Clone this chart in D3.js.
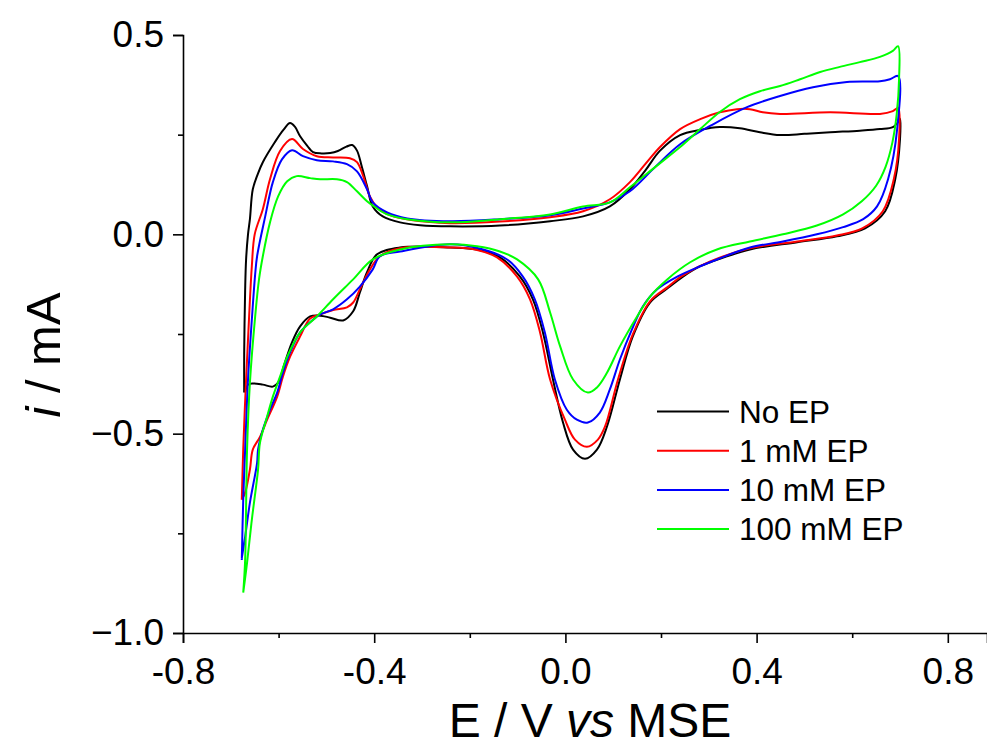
<!DOCTYPE html>
<html>
<head>
<meta charset="utf-8">
<script src="https://cdnjs.cloudflare.com/ajax/libs/d3/7.8.5/d3.min.js"></script>
<style>
  body { margin: 0; background: #fff; }
  svg { display: block; }
  text { font-family: "Liberation Sans", Arial, sans-serif; fill: #000; }
</style>
</head>
<body>
<div id="chart"></div>
<script>
// series labels (legend order)
var seriesNames = ["No EP", "1 mM EP", "10 mM EP", "100 mM EP"];

// CV loops as [E (V vs MSE), i (mA)] - anodic sweep then cathodic sweep
var noEP = [
  [-0.672,-0.397],[-0.672,-0.30],[-0.670,-0.14],[-0.668,-0.063],[-0.664,0.0],[-0.660,0.038],
  [-0.654,0.113],[-0.644,0.150],[-0.633,0.181],[-0.608,0.231],[-0.590,0.262],[-0.576,0.279],
  [-0.566,0.270],[-0.555,0.246],[-0.540,0.222],[-0.528,0.206],[-0.510,0.203],[-0.492,0.204],
  [-0.476,0.209],[-0.458,0.220],[-0.446,0.224],[-0.436,0.210],[-0.426,0.170],[-0.415,0.121],
  [-0.403,0.070],[-0.382,0.045],[-0.346,0.030],[-0.304,0.023],[-0.241,0.020],[-0.137,0.022],
  [-0.032,0.033],[0.037,0.045],[0.093,0.070],[0.135,0.113],[0.167,0.160],[0.198,0.210],
  [0.240,0.249],[0.282,0.262],[0.323,0.269],[0.365,0.266],[0.407,0.256],[0.449,0.249],
  [0.500,0.252],[0.554,0.256],[0.616,0.260],[0.658,0.264],[0.685,0.269],[0.698,0.285],
  [0.700,0.29],
  [0.700,0.239],[0.690,0.138],[0.669,0.058],[0.627,0.015],[0.568,-0.005],[0.485,-0.020],
  [0.386,-0.038],[0.303,-0.070],[0.282,-0.080],[0.246,-0.106],[0.213,-0.136],[0.177,-0.171],
  [0.141,-0.256],[0.114,-0.364],[0.087,-0.482],[0.066,-0.540],[0.041,-0.563],[0.016,-0.540],
  [-0.005,-0.472],[-0.026,-0.364],[-0.047,-0.246],[-0.068,-0.163],[-0.095,-0.106],[-0.137,-0.058],
  [-0.185,-0.038],[-0.241,-0.033],[-0.346,-0.033],[-0.394,-0.050],[-0.415,-0.095],[-0.430,-0.146],
  [-0.444,-0.193],[-0.465,-0.216],[-0.492,-0.209],[-0.513,-0.204],[-0.534,-0.206],[-0.555,-0.231],
  [-0.572,-0.271],[-0.587,-0.322],[-0.601,-0.372],[-0.612,-0.382],[-0.633,-0.377],[-0.654,-0.374],
  [-0.664,-0.377],[-0.670,-0.397]
];

var ep1 = [
  [-0.677,-0.666],[-0.674,-0.540],[-0.668,-0.364],[-0.662,-0.214],[-0.656,-0.08],[-0.650,0.0],
  [-0.633,0.063],[-0.618,0.138],[-0.597,0.209],[-0.572,0.239],[-0.549,0.214],[-0.520,0.196],
  [-0.486,0.193],[-0.451,0.191],[-0.436,0.181],[-0.423,0.146],[-0.409,0.095],[-0.394,0.068],
  [-0.367,0.048],[-0.319,0.035],[-0.241,0.028],[-0.137,0.032],[-0.032,0.043],[0.037,0.058],
  [0.093,0.088],[0.135,0.131],[0.167,0.176],[0.198,0.219],[0.240,0.264],[0.282,0.289],
  [0.323,0.306],[0.359,0.314],[0.386,0.314],[0.413,0.306],[0.449,0.302],[0.554,0.306],
  [0.658,0.302],[0.685,0.309],[0.696,0.317],
  [0.698,0.239],[0.687,0.138],[0.664,0.058],[0.621,0.015],[0.568,-0.003],[0.485,-0.018],
  [0.386,-0.035],[0.303,-0.068],[0.246,-0.103],[0.213,-0.133],[0.177,-0.168],[0.141,-0.251],
  [0.110,-0.364],[0.083,-0.482],[0.068,-0.515],[0.045,-0.533],[0.020,-0.515],[-0.001,-0.465],
  [-0.032,-0.364],[-0.053,-0.246],[-0.074,-0.163],[-0.101,-0.106],[-0.143,-0.058],[-0.189,-0.038],
  [-0.241,-0.033],[-0.346,-0.035],[-0.388,-0.055],[-0.409,-0.088],[-0.430,-0.138],[-0.444,-0.171],
  [-0.457,-0.183],[-0.486,-0.190],[-0.513,-0.201],[-0.534,-0.211],[-0.555,-0.256],[-0.576,-0.307],
  [-0.591,-0.357],[-0.603,-0.407],[-0.624,-0.465],[-0.639,-0.508],[-0.654,-0.540],[-0.660,-0.590],
  [-0.670,-0.648],[-0.677,-0.666]
];

var ep10 = [
  [-0.677,-0.817],[-0.674,-0.666],[-0.670,-0.540],[-0.664,-0.364],[-0.656,-0.214],[-0.649,-0.10],
  [-0.645,-0.055],[-0.628,0.045],[-0.612,0.131],[-0.593,0.188],[-0.572,0.211],[-0.549,0.196],
  [-0.520,0.186],[-0.486,0.183],[-0.457,0.176],[-0.436,0.158],[-0.415,0.113],[-0.403,0.080],
  [-0.373,0.055],[-0.331,0.040],[-0.241,0.033],[-0.137,0.038],[-0.032,0.048],[0.037,0.065],
  [0.093,0.080],[0.135,0.108],[0.187,0.168],[0.240,0.226],[0.309,0.276],[0.380,0.319],
  [0.449,0.347],[0.518,0.369],[0.589,0.382],[0.658,0.384],[0.679,0.389],[0.696,0.397],
  [0.694,0.264],[0.675,0.138],[0.652,0.070],[0.623,0.038],[0.581,0.018],[0.526,0.000],
  [0.455,-0.018],[0.386,-0.033],[0.317,-0.063],[0.282,-0.080],[0.234,-0.106],[0.192,-0.138],
  [0.162,-0.181],[0.139,-0.239],[0.114,-0.314],[0.093,-0.389],[0.072,-0.447],[0.047,-0.472],
  [0.024,-0.465],[0.003,-0.440],[-0.022,-0.364],[-0.043,-0.246],[-0.064,-0.163],[-0.089,-0.106],
  [-0.122,-0.063],[-0.172,-0.038],[-0.241,-0.025],[-0.346,-0.043],[-0.388,-0.055],[-0.403,-0.088],
  [-0.430,-0.131],[-0.457,-0.163],[-0.486,-0.188],[-0.513,-0.201],[-0.528,-0.214],[-0.555,-0.246],
  [-0.576,-0.296],[-0.591,-0.347],[-0.603,-0.397],[-0.618,-0.440],[-0.633,-0.490],[-0.643,-0.540],
  [-0.645,-0.573],[-0.660,-0.673],[-0.670,-0.759],[-0.677,-0.812]
];

var ep100 = [
  [-0.674,-0.899],[-0.670,-0.817],[-0.666,-0.540],[-0.660,-0.372],[-0.649,-0.206],[-0.641,-0.113],
  [-0.633,-0.055],[-0.618,0.030],[-0.601,0.095],[-0.582,0.133],[-0.562,0.146],[-0.534,0.141],
  [-0.513,0.138],[-0.478,0.138],[-0.457,0.131],[-0.436,0.108],[-0.415,0.083],[-0.398,0.068],
  [-0.373,0.050],[-0.331,0.038],[-0.241,0.030],[-0.137,0.038],[-0.032,0.050],[0.037,0.070],
  [0.093,0.080],[0.135,0.118],[0.187,0.168],[0.240,0.219],[0.282,0.264],[0.323,0.307],
  [0.365,0.339],[0.407,0.359],[0.449,0.372],[0.491,0.389],[0.533,0.407],[0.574,0.420],
  [0.616,0.432],[0.658,0.445],[0.685,0.460],[0.696,0.472],
  [0.698,0.389],[0.693,0.300],[0.684,0.230],[0.670,0.170],[0.650,0.122],[0.620,0.083],
  [0.581,0.050],[0.526,0.022],[0.455,0.000],[0.386,-0.018],[0.317,-0.038],[0.261,-0.070],
  [0.213,-0.113],[0.177,-0.156],[0.150,-0.206],[0.114,-0.281],[0.087,-0.347],[0.066,-0.384],
  [0.047,-0.397],[0.016,-0.364],[-0.011,-0.281],[-0.032,-0.196],[-0.057,-0.113],[-0.101,-0.063],
  [-0.137,-0.043],[-0.185,-0.030],[-0.241,-0.025],[-0.346,-0.038],[-0.403,-0.063],[-0.444,-0.113],
  [-0.486,-0.163],[-0.520,-0.206],[-0.555,-0.246],[-0.582,-0.307],[-0.597,-0.357],[-0.612,-0.407],
  [-0.624,-0.457],[-0.639,-0.523],[-0.643,-0.590],[-0.656,-0.716],[-0.666,-0.824],[-0.674,-0.899]
];

var allSeries = [noEP, ep1, ep10, ep100];

// tick values
var xMajor = [-0.8, -0.4, 0.0, 0.4, 0.8];
var xMinor = [-0.6, -0.2, 0.2, 0.6];
var yMajor = [0.5, 0.0, -0.5, -1.0];
var yMinor = [0.25, -0.25, -0.75];

var colors = ["#000000", "#ff0000", "#0000ff", "#00ff00"];

var W = 987, H = 749;
var svg = d3.select("#chart").append("svg")
    .attr("width", W)
    .attr("height", H);

var x = d3.scaleLinear().domain([-0.8, 0.882]).range([183, 987]);
var y = d3.scaleLinear().domain([-1.0, 0.5]).range([633, 35]);

// axes
var fmt = d3.format(".1f");
var xAxis = svg.append("g")
    .attr("transform", "translate(0,633)")
    .call(d3.axisBottom(x).tickValues(xMajor).tickSize(10).tickPadding(15)
        .tickFormat(function (d) { return fmt(d).replace("\u2212", "-"); }));
svg.append("g")
    .attr("transform", "translate(0,633)")
    .call(d3.axisBottom(x).tickValues(xMinor).tickSize(5).tickFormat(""))
    .select(".domain").remove();

var yAxis = svg.append("g")
    .attr("transform", "translate(183,0)")
    .call(d3.axisLeft(y).tickValues(yMajor).tickSize(10).tickPadding(9).tickFormat(fmt));
svg.append("g")
    .attr("transform", "translate(183,0)")
    .call(d3.axisLeft(y).tickValues(yMinor).tickSize(5).tickFormat(""))
    .select(".domain").remove();

svg.selectAll(".domain, .tick line")
    .attr("stroke", "#000")
    .attr("stroke-width", 1.6);
xAxis.selectAll(".tick text").style("font-size", "37px");
yAxis.selectAll(".tick text").style("font-size", "37px");

// axis titles
var xt = svg.append("text")
    .attr("x", 590)
    .attr("y", 737)
    .attr("text-anchor", "middle")
    .style("font-size", "48px");
xt.append("tspan").text("E / V ");
xt.append("tspan").style("font-style", "italic").text("vs");
xt.append("tspan").text(" MSE");

var yt = svg.append("text")
    .attr("transform", "translate(60,355) rotate(-90)")
    .attr("text-anchor", "middle")
    .style("font-size", "49px");
yt.append("tspan").style("font-style", "italic").text("i");
yt.append("tspan").text(" / mA");

// curves
var line = d3.line()
    .x(function (d) { return x(d[0]); })
    .y(function (d) { return y(d[1]); })
    .curve(d3.curveCatmullRom.alpha(0.5));

svg.append("g")
    .selectAll("path")
    .data(allSeries)
    .enter()
    .append("path")
    .attr("d", line)
    .attr("fill", "none")
    .attr("stroke", function (d, i) { return colors[i]; })
    .attr("stroke-width", 2)
    .attr("stroke-linejoin", "round");

// legend
var legend = svg.append("g");
var rows = legend.selectAll("g")
    .data(seriesNames)
    .enter()
    .append("g")
    .attr("transform", function (d, i) { return "translate(657," + (411.5 + i * 39.2) + ")"; });
rows.append("line")
    .attr("x1", 0).attr("x2", 72)
    .attr("stroke", function (d, i) { return colors[i]; })
    .attr("stroke-width", 2);
rows.append("text")
    .attr("x", 82)
    .attr("dy", "0.36em")
    .style("font-size", "31.5px")
    .text(function (d) { return d; });
</script>
</body>
</html>
